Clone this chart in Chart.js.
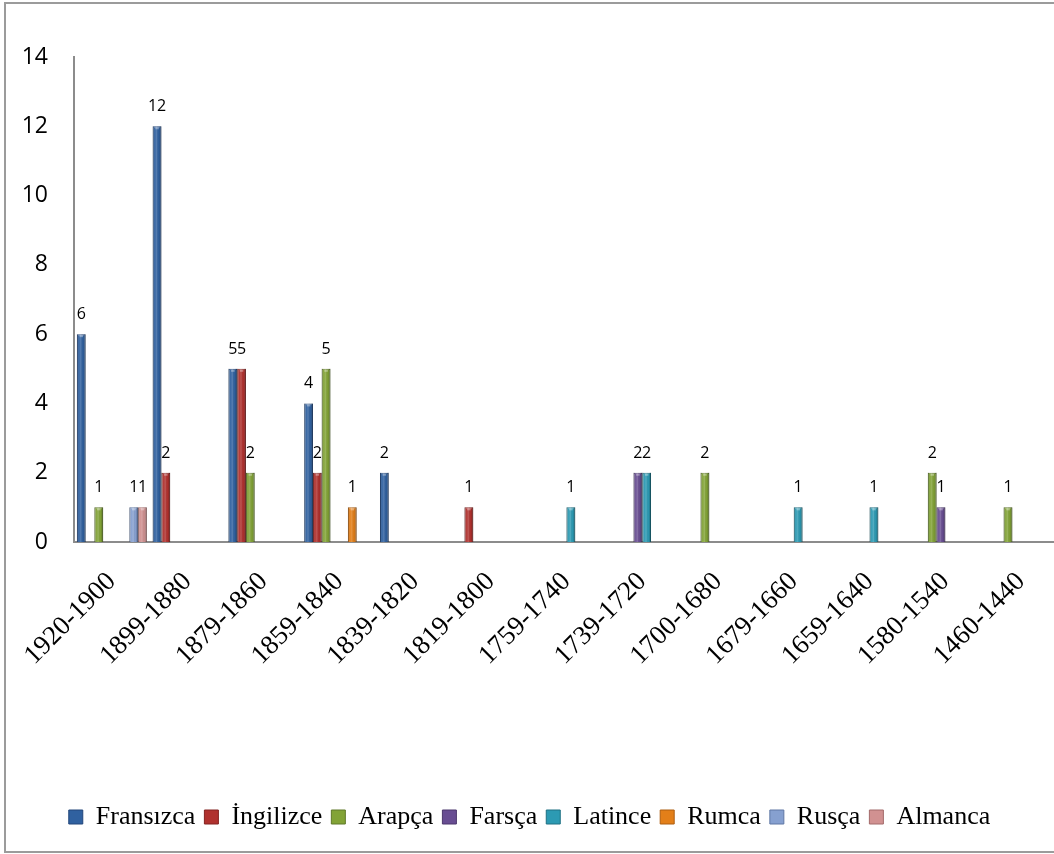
<!DOCTYPE html>
<html>
<head>
<meta charset="utf-8">
<script src="https://cdn.jsdelivr.net/npm/chart.js@4.4.0/dist/chart.umd.min.js"></script>
<style>
  html, body { margin: 0; padding: 0; background: #fff; overflow: hidden; width: 1054px; height: 854px; }
  #frame { position: absolute; left: 4px; top: 2px; width: 1100px; height: 847px;
           border: 2px solid #9b9b9b; border-right: none; }
  #c { position: absolute; left: 0; top: 0; }
</style>
</head>
<body>
<div id="frame"></div>
<canvas id="c" width="1070" height="854"></canvas>
<script>
// Periods (newest first)
const categories = ['1920-1900', '1899-1880', '1879-1860', '1859-1840', '1839-1820', '1819-1800',
                    '1759-1740', '1739-1720', '1700-1680', '1679-1660', '1659-1640', '1580-1540', '1460-1440'];

// Number of works per language and period (null = none)
const fransizca = [6, 12, 5, 4, 2, null, null, null, null, null, null, null, null];
const ingilizce = [null, 2, 5, 2, null, 1, null, null, null, null, null, null, null];
const arapca    = [1, null, 2, 5, null, null, null, null, 2, null, null, 2, 1];
const farsca    = [null, null, null, null, null, null, null, 2, null, null, null, 1, null];
const latince   = [null, null, null, null, null, null, 1, 2, null, 1, 1, null, null];
const rumca     = [null, null, null, 1, null, null, null, null, null, null, null, null, null];
const rusca     = [1, null, null, null, null, null, null, null, null, null, null, null, null];
const almanca   = [1, null, null, null, null, null, null, null, null, null, null, null, null];

const yTicks = [0, 2, 4, 6, 8, 10, 12, 14];

const series = [
  { label: 'Fransızca', data: fransizca, color: '#3061a0', edge: '#22467a' },
  { label: 'İngilizce', data: ingilizce, color: '#b0312e', edge: '#832321' },
  { label: 'Arapça',    data: arapca,    color: '#82a336', edge: '#5e7828' },
  { label: 'Farsça',    data: farsca,    color: '#684d92', edge: '#4b376c' },
  { label: 'Latince',   data: latince,   color: '#2c9ab3', edge: '#1e7083' },
  { label: 'Rumca',     data: rumca,     color: '#e37f19', edge: '#ad5e10' },
  { label: 'Rusça',     data: rusca,     color: '#86a0d0', edge: '#5f77a4' },
  { label: 'Almanca',   data: almanca,   color: '#d19191', edge: '#a36a6a' }
];

// Cylinder-like shading on each bar plus the value written above it
const barDecor = {
  id: 'barDecor',
  afterDatasetsDraw(chart) {
    const ctx = chart.ctx;
    ctx.save();
    chart.data.datasets.forEach((ds, di) => {
      const meta = chart.getDatasetMeta(di);
      meta.data.forEach((bar, i) => {
        const v = ds.data[i];
        if (v === null || v === undefined) return;
        const { x, y, base, width } = bar.getProps(['x', 'y', 'base', 'width'], true);
        const left = x - width / 2;
        const g = ctx.createLinearGradient(left, 0, left + width, 0);
        g.addColorStop(0, 'rgba(0,0,0,0.28)');
        g.addColorStop(0.25, 'rgba(255,255,255,0.05)');
        g.addColorStop(0.45, 'rgba(255,255,255,0.18)');
        g.addColorStop(0.7, 'rgba(0,0,0,0.02)');
        g.addColorStop(1, 'rgba(0,0,0,0.32)');
        ctx.fillStyle = g;
        ctx.fillRect(left, y, width, base - y);
        // light cap at the top
        ctx.fillStyle = 'rgba(255,255,255,0.35)';
        ctx.fillRect(left + width * 0.3, y + 1, width * 0.4, 2);
      });
    });
    ctx.fillStyle = '#000';
    ctx.font = '16px "Open Sans", sans-serif';
    ctx.textAlign = 'center';
    ctx.textBaseline = 'alphabetic';
    chart.data.datasets.forEach((ds, di) => {
      const meta = chart.getDatasetMeta(di);
      meta.data.forEach((bar, i) => {
        const v = ds.data[i];
        if (v === null || v === undefined) return;
        ctx.fillText(String(v), bar.x, bar.y - 15);
      });
    });
    ctx.restore();
  }
};

new Chart(document.getElementById('c'), {
  type: 'bar',
  data: {
    labels: categories,
    datasets: series.map(s => ({
      label: s.label,
      data: s.data,
      backgroundColor: s.color,
      borderColor: s.edge,
      borderWidth: 1,
      categoryPercentage: 0.923,
      barPercentage: 1.0
    }))
  },
  options: {
    responsive: false,
    animation: false,
    devicePixelRatio: 1,
    layout: { padding: { top: 57, right: 11, bottom: 14, left: 0 } },
    plugins: {
      tooltip: { enabled: false },
      legend: {
        position: 'bottom',
        labels: {
          color: '#000',
          font: { family: '"Liberation Serif", "Times New Roman", serif', size: 26 },
          boxWidth: 14,
          boxHeight: 14,
          padding: 9
        }
      }
    },
    scales: {
      x: {
        grid: { display: false },
        border: { display: true, color: '#8c8c8c', width: 2 },
        ticks: {
          color: '#000',
          minRotation: 45,
          maxRotation: 45,
          autoSkip: false,
          padding: 16,
          labelOffset: 0,
          font: { family: '"Liberation Serif", "Times New Roman", serif', size: 27 }
        },
        afterFit(scale) { scale.height = 253; }
      },
      y: {
        min: 0,
        max: 14,
        grid: { display: false },
        border: { display: true, color: '#8c8c8c', width: 2 },
        afterBuildTicks(scale) { scale.ticks = yTicks.map(v => ({ value: v })); },
        ticks: {
          color: '#000',
          padding: 18,
          font: { family: '"Open Sans", sans-serif', size: 23 }
        },
        afterFit(scale) { scale.width = 74; }
      }
    }
  },
  plugins: [barDecor]
});
</script>
</body>
</html>
